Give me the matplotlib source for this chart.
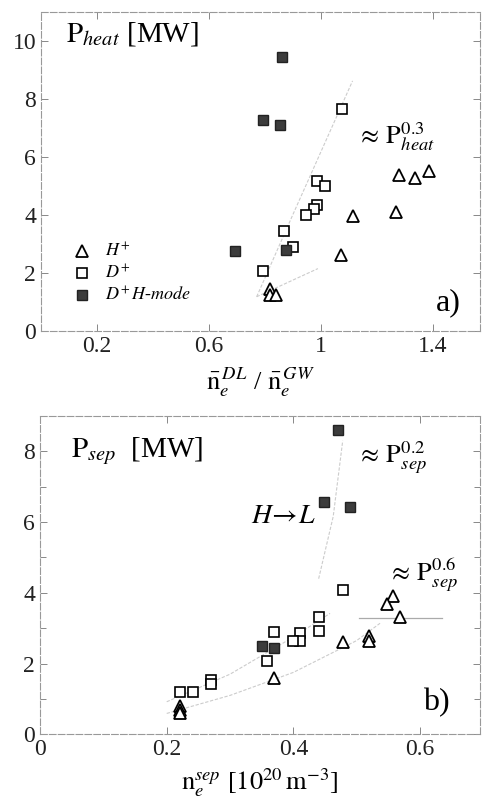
import matplotlib.pyplot as plt
from matplotlib.ticker import MultipleLocator, FixedLocator

plt.rcParams['font.family'] = ['Liberation Serif', 'DejaVu Serif']
plt.rcParams['mathtext.fontset'] = 'stix'

# (a) heating power vs. line density normalised to Greenwald
h_ratio = [1.28, 1.338, 1.389, 1.27, 1.115, 1.074, 0.82, 0.82, 0.839]
h_pheat = [5.37, 5.26, 5.51, 4.09, 3.95, 2.63, 1.46, 1.25, 1.25]
d_ratio = [1.076, 0.987, 1.017, 0.987, 0.977, 0.948, 0.869, 0.90, 0.792]
d_pheat = [7.65, 5.17, 4.98, 4.34, 4.21, 3.99, 3.45, 2.91, 2.05]
dh_ratio = [0.861, 0.792, 0.856, 0.694, 0.877]
dh_pheat = [9.44, 7.27, 7.09, 2.77, 2.78]
fit_a_x = [0.771, 0.90, 1.114]
fit_a_y = [1.18, 4.0, 8.62]
fit_a2_x = [0.771, 0.99]
fit_a2_y = [1.18, 2.15]

# (b) power over separatrix vs. separatrix density
h_nsep = [0.558, 0.548, 0.569, 0.519, 0.519, 0.479, 0.370, 0.221, 0.221, 0.221]
h_psep = [3.90, 3.69, 3.33, 2.79, 2.63, 2.60, 1.58, 0.80, 0.70, 0.61]
d_nsep = [0.479, 0.440, 0.440, 0.410, 0.410, 0.399, 0.370, 0.359, 0.27, 0.27, 0.241, 0.221]
d_psep = [4.08, 3.33, 2.92, 2.86, 2.65, 2.64, 2.89, 2.07, 1.53, 1.41, 1.20, 1.19]
dh_nsep = [0.470, 0.449, 0.490, 0.350, 0.370]
dh_psep = [8.61, 6.57, 6.44, 2.51, 2.43]
fit_d_x = [0.20, 0.30, 0.40, 0.458]
fit_d_y = [0.92, 1.70, 2.75, 3.42]
fit_h_x = [0.20, 0.30, 0.40, 0.50, 0.537]
fit_h_y = [0.59, 1.10, 1.75, 2.65, 3.14]
fit_hl_x = [0.440, 0.463, 0.478]
fit_hl_y = [4.40, 6.16, 8.30]
thr_x = [0.503, 0.635]
thr_y = [3.30, 3.30]

fig = plt.figure(figsize=(4.83, 8.02), dpi=100)
ax1 = fig.add_axes([0.085, 0.5873, 0.909, 0.398])
ax2 = fig.add_axes([0.083, 0.0844, 0.911, 0.3969])

tri = dict(marker='^', ms=8, mfc='white', mec='black', mew=1.3, ls='none')
sq = dict(marker='s', ms=7.5, mfc='white', mec='black', mew=1.2, ls='none')
sqf = dict(marker='s', ms=7.5, mfc='#3c3c3c', mec='#222222', mew=1.0, ls='none')
fitline = dict(color='#cccccc', lw=0.8, ls=(0, (3, 1.5)))

for ax in (ax1, ax2):
    for s in ax.spines.values():
        s.set_color('#999999')
        s.set_linewidth(0.8)
        s.set_linestyle((0, (6, 2)))
    ax.tick_params(direction='in', which='both', colors='#888888',
                   labelcolor='#222222', labelsize=17, top=True, right=True,
                   length=5, width=0.7)
    ax.tick_params(which='minor', length=4)

# panel a
ax1.plot(fit_a_x, fit_a_y, **fitline)
ax1.plot(fit_a2_x, fit_a2_y, **fitline)
ax1.plot(h_ratio, h_pheat, **tri)
ax1.plot(d_ratio, d_pheat, **sq)
ax1.plot(dh_ratio, dh_pheat, **sqf)
ax1.set_xlim(0, 1.57)
ax1.set_ylim(0, 11)
ax1.xaxis.set_major_locator(FixedLocator([0.2, 0.6, 1.0, 1.4]))
ax1.set_xticklabels(['0.2', '0.6', '1', '1.4'])
ax1.yaxis.set_major_locator(MultipleLocator(2))
ax1.set_xlabel(r'$\bar{\mathrm{n}}_e^{\,DL}$ / $\bar{\mathrm{n}}_e^{\,GW}$',
               fontsize=19, labelpad=6)
ax1.text(0.056, 0.93, r'$\mathrm{P}_{heat}$ [MW]', transform=ax1.transAxes,
         fontsize=21, va='center')
ax1.text(0.72, 0.61, r'$\approx\,\mathrm{P}_{heat}^{0.3}$', transform=ax1.transAxes,
         fontsize=19, va='center')
ax1.text(0.90, 0.09, 'a)', transform=ax1.transAxes, fontsize=23, va='center')

# legend drawn by hand in axes coordinates
leg_rows = [(r'$H^{+}$', tri), (r'$D^{+}$', sq), (r'$D^{+}\,H$-$mode$', sqf)]
for i, (lbl, st) in enumerate(leg_rows):
    yy = 0.25 - i * 0.069
    ax1.plot([0.093], [yy], transform=ax1.transAxes, clip_on=False, **st)
    ax1.text(0.145, yy, lbl, transform=ax1.transAxes, fontsize=13, va='center')

# panel b
ax2.plot(fit_d_x, fit_d_y, **fitline)
ax2.plot(fit_h_x, fit_h_y, **fitline)
ax2.plot(fit_hl_x, fit_hl_y, **fitline)
ax2.plot(thr_x, thr_y, color='#aaaaaa', lw=0.9)
ax2.plot(h_nsep, h_psep, **tri)
ax2.plot(d_nsep, d_psep, **sq)
ax2.plot(dh_nsep, dh_psep, **sqf)
ax2.set_xlim(0, 0.695)
ax2.set_ylim(0, 9)
ax2.xaxis.set_major_locator(FixedLocator([0, 0.2, 0.4, 0.6]))
ax2.set_xticklabels(['0', '0.2', '0.4', '0.6'])
ax2.yaxis.set_major_locator(MultipleLocator(2))
ax2.yaxis.set_minor_locator(MultipleLocator(1))
ax2.set_xlabel(r'$\mathrm{n}_e^{sep}$ [$10^{20}\,\mathrm{m}^{-3}$]', fontsize=19, labelpad=4)
ax2.text(0.07, 0.89, r'$\mathrm{P}_{sep}$  [MW]', transform=ax2.transAxes,
         fontsize=21, va='center')
ax2.text(0.72, 0.87, r'$\approx\,\mathrm{P}_{sep}^{0.2}$', transform=ax2.transAxes,
         fontsize=19, va='center')
ax2.text(0.48, 0.685, r'$H\!\rightarrow\!L$', transform=ax2.transAxes,
         fontsize=20, va='center')
ax2.text(0.79, 0.50, r'$\approx\,\mathrm{P}_{sep}^{0.6}$', transform=ax2.transAxes,
         fontsize=19, va='center')
ax2.text(0.87, 0.10, 'b)', transform=ax2.transAxes, fontsize=23, va='center')

fig.savefig('out.png', dpi=100)
